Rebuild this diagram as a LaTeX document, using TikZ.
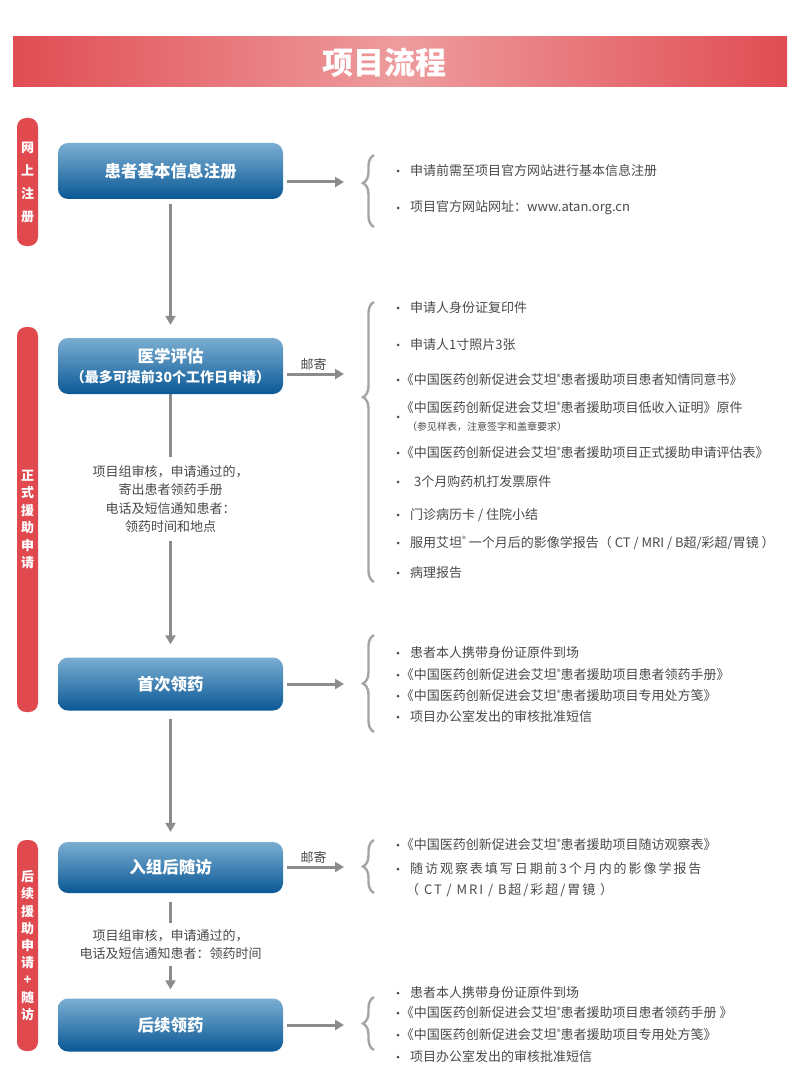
\documentclass[tikz,border=0pt]{standalone}
\usepackage{fontspec}
\setmainfont{Noto Sans CJK SC}
\newfontfamily\spacedfont[LetterSpace=15]{Noto Sans CJK SC}
\usetikzlibrary{arrows.meta,positioning,decorations.pathreplacing}
\definecolor{barred}{HTML}{E04D53}
\definecolor{barpink}{HTML}{EE9C9E}
\definecolor{tabred}{HTML}{E04A4F}
\definecolor{boxtop}{HTML}{7BAED2}
\definecolor{boxbot}{HTML}{0A5896}
\definecolor{linegray}{HTML}{8C8C8C}
\definecolor{bracegray}{HTML}{A5A5A5}
\definecolor{textgray}{HTML}{4A4A4A}
\newcommand\regmk{\raisebox{0.35em}{\fontsize{8}{8}\selectfont ®}}
\newcommand\bk{\hspace*{-0.72em}}
\tikzset{
  >={Triangle[length=9pt,width=10pt]},
  titlebar/.style={minimum width=774pt,minimum height=50pt,inner sep=0pt,
    left color=barred,right color=barred,middle color=barpink},
  sidetab/.style={rounded corners=9pt,fill=tabred,minimum width=21pt,inner sep=0pt,
    text=white,align=center,font=\fontsize{13}{#1}\selectfont\bfseries},
  stepbox/.style={rounded corners=10pt,minimum width=225pt,minimum height=53pt,
    top color=boxtop,bottom color=boxbot,text=white,align=center,inner sep=0pt,
    font=\fontsize{16.5}{20}\selectfont\bfseries},
  arrow/.style={->,line width=3pt,draw=linegray},
  plainline/.style={line width=3pt,draw=linegray},
  note/.style={align=center,text=textgray,inner xsep=0pt,font=\fontsize{13}{18.3}\selectfont},
  itemtext/.style={anchor=west,inner sep=0pt,text=textgray,font=\fontsize{13}{16}\selectfont},
  curly/.style={decorate,decoration={brace,amplitude=11pt,aspect=#1},
    draw=bracegray,line width=2.4pt},
  curly/.default=0.5,
}
\begin{document}
\begin{tikzpicture}[x=1pt,y=-1pt]
\useasboundingbox (0,0) rectangle (800,1067);
\fill[white] (0,0) rectangle (800,1067);
% header
\node[titlebar] (bar) at (400,62) {};
\node[text=white,font=\fontsize{31}{31}\selectfont\bfseries] (title) at (384,63) {项目流程};
% side tabs
\node[sidetab=23,minimum height=128pt] (tabreg) at (27.5,182) {网\\上\\注\\册};
\node[sidetab=17.5,minimum height=385pt] (tabapply) at (27.5,519.5) {正\\式\\援\\助\\申\\请};
\node[sidetab=17.2,minimum height=211pt] (tabfollow) at (27.5,945.5) {后\\续\\援\\助\\申\\请\\+\\随\\访};
% steps
\node[stepbox,minimum height=56pt] (reg) at (170.5,171) {患者基本信息注册};
\node[stepbox,minimum height=56pt] (evalbox) at (170.5,366) {医学评估\\{\fontsize{14}{16}\selectfont（最多可提前30个工作日申请）}};
\node[stepbox] (firstdrug) at (170.5,684) {首次领药};
\node[stepbox,minimum height=51pt] (followup) at (170.5,867.5) {入组后随访};
\node[stepbox] (laterdrug) at (170.5,1025) {后续领药};
\node[note,inner ysep=8pt] (note1) at (170.5,499) {项目组审核，申请通过的，\\寄出患者领药手册\\电话及短信通知患者：\\领药时间和地点};
\node[note,inner ysep=6pt] (note2) at (170.5,944.5) {项目组审核，申请通过的，\\电话及短信通知患者：领药时间};
% vertical flow
\draw[arrow,shorten <=5pt,shorten >=13pt] (reg) -- (evalbox);
\draw[plainline] (evalbox) -- (note1);
\draw[arrow,shorten >=13pt] (note1) -- (firstdrug);
\draw[arrow,shorten <=8pt,shorten >=10pt] (firstdrug) -- (followup);
\draw[plainline,shorten <=9pt] (followup) -- (note2);
\draw[arrow,shorten >=9pt] (note2) -- (laterdrug);
% to the lists
\coordinate (t1) at (344,182);
\coordinate (t2) at (344,374);
\coordinate (t3) at (344,684);
\coordinate (t4) at (344,867);
\coordinate (t5) at (344,1025);
\draw[arrow,shorten <=4pt] (reg.east |- t1) -- (t1);
\draw[arrow,shorten <=4pt] (evalbox.east |- t2) -- node[above,inner sep=2pt,text=textgray,font=\fontsize{13}{13}\selectfont] (mail1) {邮寄} (t2);
\draw[arrow,shorten <=4pt] (firstdrug.east |- t3) -- (t3);
\draw[arrow,shorten <=4pt] (followup.east |- t4) -- node[above,inner sep=2pt,text=textgray,font=\fontsize{13}{13}\selectfont] (mail2) {邮寄} (t4);
\draw[arrow,shorten <=4pt] (laterdrug.east |- t5) -- (t5);
% braces
\draw[curly=0.61] (374,227) -- (374,155);
\draw[curly=0.66] (374,582) -- (374,302);
\draw[curly] (374,732) -- (374,635);
\draw[curly] (374,893) -- (374,840);
\draw[curly] (374,1050) -- (374,997);
% lists
\foreach \y/\t in {171/申请前需至项目官方网站进行基本信息注册,208/项目官方网站网址：www.atan.org.cn,
  308/申请人身份证复印件,345/申请人1寸照片3张,
  380/{\bk《中国医药创新促进会艾坦\regmk 患者援助项目患者知情同意书》},
  453/{\bk《中国医药创新促进会艾坦\regmk 患者援助项目正式援助申请评估表》},
  482/{\hspace*{4pt}3个月购药机打发票原件},515/{门诊病历卡 / 住院小结},
  543/{服用艾坦\regmk\ 一个月后的影像学报告（ CT / MRI / B超/彩超/胃镜 ）},573/病理报告,
  653/患者本人携带身份证原件到场,675/{\bk《中国医药创新促进会艾坦\regmk 患者援助项目患者领药手册》},
  696/{\bk《中国医药创新促进会艾坦\regmk 患者援助项目专用处方笺》},717/项目办公室发出的审核批准短信,
  845/{\bk《中国医药创新促进会艾坦\regmk 患者援助项目随访观察表》},
  993/患者本人携带身份证原件到场,1013/{\bk《中国医药创新促进会艾坦\regmk 患者援助项目患者领药手册 》},
  1035/{\bk《中国医药创新促进会艾坦\regmk 患者援助项目专用处方笺》},1057/项目办公室发出的审核批准短信}{
  \fill[textgray] (398,\y) circle (1.5pt);
  \node[itemtext] (item\y) at (410,\y) {\t};
}
\fill[textgray] (398,417) circle (1.5pt);
\node[itemtext] (item408) at (410,408) {\bk《中国医药创新促进会艾坦\regmk 患者援助项目低收入证明》原件};
\node[itemtext,font=\fontsize{10}{12}\selectfont] (item427) at (407,427) {（参见样表，注意签字和盖章要求）};
\fill[textgray] (398,869) circle (1.5pt);
\node[itemtext,font=\fontsize{13}{16}\spacedfont] (item869) at (410,869) {随访观察表填写日期前3个月内的影像学报告};
\node[itemtext,font=\fontsize{13}{16}\spacedfont] (item890) at (406,890) {（ CT / MRI / B超/彩超/胃镜 ）};
\end{tikzpicture}
\end{document}
